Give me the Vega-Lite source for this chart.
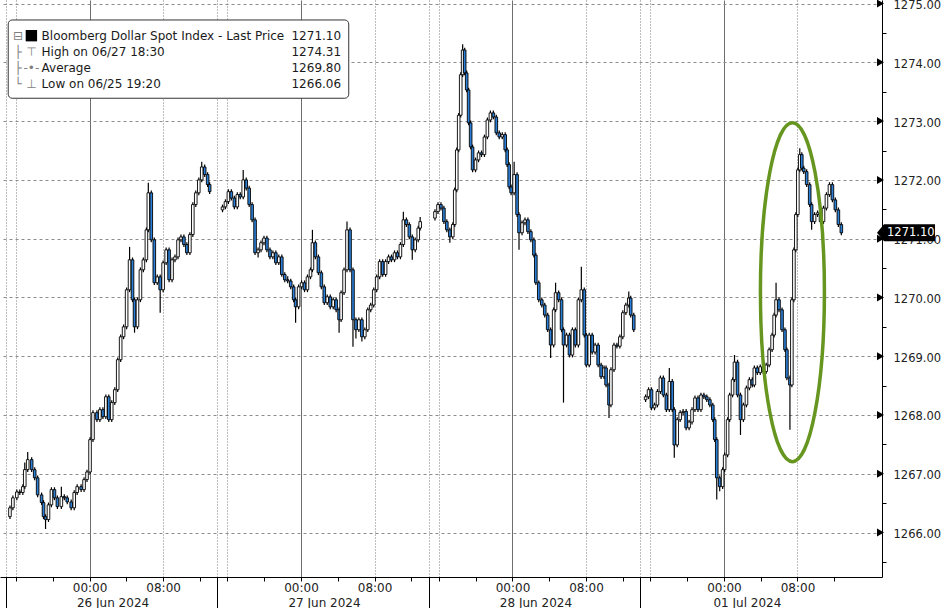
{
"$schema": "https://vega.github.io/schema/vega-lite/v6.json",
"width": 882, "height": 577,
"autosize": {"type": "none"},
"padding": {"left": 0, "top": 0, "right": 59, "bottom": 31},
"background": "white",
"config": {"view": {"stroke": null}, "font": "DejaVu Sans"},
"datasets": {"candles": [
{"t":0.54,"o":1266.27,"h":1266.46,"l":1266.23,"c":1266.42},
{"t":0.86,"o":1266.42,"h":1266.63,"l":1266.38,"c":1266.59},
{"t":1.29,"o":1266.59,"h":1266.73,"l":1266.55,"c":1266.69},
{"t":1.61,"o":1266.69,"h":1266.73,"l":1266.64,"c":1266.68},
{"t":1.94,"o":1266.68,"h":1266.82,"l":1266.64,"c":1266.78},
{"t":2.15,"o":1266.78,"h":1267.19,"l":1266.74,"c":1267.07},
{"t":2.47,"o":1267.07,"h":1267.37,"l":1267.03,"c":1267.24},
{"t":2.90,"o":1267.24,"h":1267.28,"l":1267.03,"c":1267.07},
{"t":3.23,"o":1267.07,"h":1267.11,"l":1266.89,"c":1266.93},
{"t":3.55,"o":1266.93,"h":1266.97,"l":1266.60,"c":1266.64},
{"t":3.98,"o":1266.64,"h":1266.68,"l":1266.47,"c":1266.51},
{"t":4.19,"o":1266.51,"h":1266.55,"l":1266.23,"c":1266.27},
{"t":4.41,"o":1266.27,"h":1266.31,"l":1266.06,"c":1266.22},
{"t":4.73,"o":1266.22,"h":1266.51,"l":1266.18,"c":1266.47},
{"t":5.05,"o":1266.47,"h":1266.77,"l":1266.43,"c":1266.73},
{"t":5.38,"o":1266.73,"h":1266.77,"l":1266.55,"c":1266.59},
{"t":5.70,"o":1266.59,"h":1266.63,"l":1266.40,"c":1266.44},
{"t":6.13,"o":1266.44,"h":1266.78,"l":1266.40,"c":1266.61},
{"t":6.45,"o":1266.61,"h":1266.65,"l":1266.55,"c":1266.59},
{"t":6.77,"o":1266.59,"h":1266.63,"l":1266.48,"c":1266.52},
{"t":7.20,"o":1266.52,"h":1266.56,"l":1266.38,"c":1266.42},
{"t":7.53,"o":1266.42,"h":1266.72,"l":1266.38,"c":1266.68},
{"t":7.85,"o":1266.68,"h":1266.82,"l":1266.64,"c":1266.78},
{"t":8.28,"o":1266.78,"h":1266.82,"l":1266.69,"c":1266.73},
{"t":8.60,"o":1266.73,"h":1266.94,"l":1266.69,"c":1266.90},
{"t":8.92,"o":1266.90,"h":1267.07,"l":1266.86,"c":1267.03},
{"t":9.25,"o":1267.03,"h":1267.62,"l":1266.99,"c":1267.58},
{"t":9.57,"o":1267.58,"h":1268.08,"l":1267.54,"c":1268.04},
{"t":10.00,"o":1268.04,"h":1268.08,"l":1267.88,"c":1267.92},
{"t":10.32,"o":1267.92,"h":1268.13,"l":1267.88,"c":1268.09},
{"t":10.65,"o":1268.09,"h":1268.13,"l":1267.93,"c":1267.97},
{"t":10.97,"o":1267.97,"h":1268.35,"l":1267.93,"c":1268.31},
{"t":11.29,"o":1268.31,"h":1268.35,"l":1267.88,"c":1267.92},
{"t":11.61,"o":1267.92,"h":1268.25,"l":1267.88,"c":1268.21},
{"t":11.94,"o":1268.21,"h":1268.47,"l":1268.17,"c":1268.43},
{"t":12.26,"o":1268.43,"h":1268.98,"l":1268.39,"c":1268.94},
{"t":12.58,"o":1268.94,"h":1269.37,"l":1268.90,"c":1269.33},
{"t":12.90,"o":1269.33,"h":1269.54,"l":1269.29,"c":1269.50},
{"t":13.23,"o":1269.50,"h":1270.17,"l":1269.46,"c":1270.13},
{"t":13.55,"o":1270.13,"h":1270.86,"l":1270.09,"c":1270.64},
{"t":13.87,"o":1270.64,"h":1270.68,"l":1269.92,"c":1269.96},
{"t":14.09,"o":1269.96,"h":1270.00,"l":1269.40,"c":1269.50},
{"t":14.41,"o":1269.50,"h":1270.00,"l":1269.46,"c":1269.96},
{"t":14.73,"o":1269.96,"h":1270.51,"l":1269.92,"c":1270.47},
{"t":15.05,"o":1270.47,"h":1270.68,"l":1270.43,"c":1270.64},
{"t":15.38,"o":1270.64,"h":1271.19,"l":1270.60,"c":1271.15},
{"t":15.59,"o":1271.15,"h":1271.95,"l":1271.11,"c":1271.78},
{"t":15.91,"o":1271.78,"h":1271.82,"l":1270.94,"c":1270.98},
{"t":16.24,"o":1270.98,"h":1271.02,"l":1270.21,"c":1270.25},
{"t":16.56,"o":1270.25,"h":1270.39,"l":1270.21,"c":1270.35},
{"t":16.88,"o":1270.35,"h":1270.39,"l":1269.74,"c":1270.13},
{"t":17.20,"o":1270.13,"h":1270.63,"l":1270.09,"c":1270.59},
{"t":17.53,"o":1270.59,"h":1270.85,"l":1270.55,"c":1270.81},
{"t":17.85,"o":1270.81,"h":1270.85,"l":1270.26,"c":1270.30},
{"t":18.17,"o":1270.30,"h":1270.68,"l":1270.26,"c":1270.64},
{"t":18.49,"o":1270.64,"h":1270.73,"l":1270.60,"c":1270.69},
{"t":18.82,"o":1270.69,"h":1271.02,"l":1270.65,"c":1270.98},
{"t":19.14,"o":1270.98,"h":1271.07,"l":1270.94,"c":1271.03},
{"t":19.46,"o":1271.03,"h":1271.07,"l":1270.86,"c":1270.90},
{"t":19.78,"o":1270.90,"h":1270.94,"l":1270.72,"c":1270.76},
{"t":20.11,"o":1270.76,"h":1271.11,"l":1270.72,"c":1271.07},
{"t":20.43,"o":1271.07,"h":1271.62,"l":1271.03,"c":1271.58},
{"t":20.75,"o":1271.58,"h":1271.82,"l":1271.54,"c":1271.78},
{"t":21.08,"o":1271.78,"h":1272.04,"l":1271.74,"c":1272.00},
{"t":21.40,"o":1272.00,"h":1272.31,"l":1271.96,"c":1272.22},
{"t":21.72,"o":1272.22,"h":1272.26,"l":1272.05,"c":1272.09},
{"t":22.04,"o":1272.09,"h":1272.13,"l":1271.88,"c":1271.92},
{"t":22.26,"o":1271.92,"h":1271.96,"l":1271.76,"c":1271.80},
{"t":23.66,"o":1271.49,"h":1271.58,"l":1271.45,"c":1271.54},
{"t":23.98,"o":1271.54,"h":1271.67,"l":1271.50,"c":1271.63},
{"t":24.30,"o":1271.63,"h":1271.84,"l":1271.59,"c":1271.80},
{"t":24.62,"o":1271.80,"h":1271.84,"l":1271.65,"c":1271.69},
{"t":24.95,"o":1271.69,"h":1271.73,"l":1271.50,"c":1271.54},
{"t":25.27,"o":1271.54,"h":1271.79,"l":1271.50,"c":1271.75},
{"t":25.59,"o":1271.75,"h":1271.79,"l":1271.67,"c":1271.71},
{"t":25.91,"o":1271.71,"h":1272.17,"l":1271.67,"c":1272.00},
{"t":26.24,"o":1272.00,"h":1272.04,"l":1271.82,"c":1271.86},
{"t":26.56,"o":1271.86,"h":1271.90,"l":1271.54,"c":1271.58},
{"t":26.88,"o":1271.58,"h":1271.62,"l":1271.28,"c":1271.32},
{"t":27.20,"o":1271.32,"h":1271.36,"l":1270.72,"c":1270.76},
{"t":27.53,"o":1270.76,"h":1270.85,"l":1270.68,"c":1270.81},
{"t":27.85,"o":1270.81,"h":1270.97,"l":1270.77,"c":1270.93},
{"t":28.17,"o":1270.93,"h":1271.05,"l":1270.89,"c":1271.01},
{"t":28.49,"o":1271.01,"h":1271.05,"l":1270.77,"c":1270.81},
{"t":28.82,"o":1270.81,"h":1270.85,"l":1270.65,"c":1270.69},
{"t":29.14,"o":1270.69,"h":1270.80,"l":1270.65,"c":1270.76},
{"t":29.46,"o":1270.76,"h":1270.80,"l":1270.55,"c":1270.59},
{"t":29.78,"o":1270.59,"h":1270.73,"l":1270.55,"c":1270.69},
{"t":30.11,"o":1270.69,"h":1270.73,"l":1270.35,"c":1270.39},
{"t":30.43,"o":1270.39,"h":1270.43,"l":1270.26,"c":1270.30},
{"t":30.75,"o":1270.30,"h":1270.36,"l":1270.24,"c":1270.28},
{"t":31.08,"o":1270.28,"h":1270.32,"l":1270.14,"c":1270.18},
{"t":31.40,"o":1270.18,"h":1270.22,"l":1269.92,"c":1269.96},
{"t":31.61,"o":1269.96,"h":1270.00,"l":1269.57,"c":1269.84},
{"t":31.94,"o":1269.84,"h":1270.22,"l":1269.80,"c":1270.18},
{"t":32.26,"o":1270.18,"h":1270.29,"l":1270.14,"c":1270.25},
{"t":32.58,"o":1270.25,"h":1270.29,"l":1270.09,"c":1270.13},
{"t":32.90,"o":1270.13,"h":1270.39,"l":1270.09,"c":1270.35},
{"t":33.23,"o":1270.35,"h":1270.51,"l":1270.31,"c":1270.47},
{"t":33.44,"o":1270.47,"h":1271.15,"l":1270.43,"c":1270.93},
{"t":33.76,"o":1270.93,"h":1270.97,"l":1270.65,"c":1270.69},
{"t":34.09,"o":1270.69,"h":1270.73,"l":1270.38,"c":1270.42},
{"t":34.41,"o":1270.42,"h":1270.46,"l":1270.14,"c":1270.18},
{"t":34.73,"o":1270.18,"h":1270.22,"l":1269.87,"c":1269.91},
{"t":35.05,"o":1269.91,"h":1270.05,"l":1269.87,"c":1270.01},
{"t":35.38,"o":1270.01,"h":1270.05,"l":1269.80,"c":1269.84},
{"t":35.70,"o":1269.84,"h":1270.00,"l":1269.80,"c":1269.96},
{"t":36.02,"o":1269.96,"h":1270.00,"l":1269.75,"c":1269.79},
{"t":36.34,"o":1269.79,"h":1269.83,"l":1269.40,"c":1269.62},
{"t":36.56,"o":1269.62,"h":1270.12,"l":1269.58,"c":1270.08},
{"t":36.88,"o":1270.08,"h":1270.51,"l":1270.04,"c":1270.47},
{"t":37.20,"o":1270.47,"h":1271.29,"l":1270.43,"c":1271.15},
{"t":37.53,"o":1271.15,"h":1271.19,"l":1270.43,"c":1270.47},
{"t":37.85,"o":1270.47,"h":1270.51,"l":1269.16,"c":1269.62},
{"t":38.17,"o":1269.62,"h":1269.66,"l":1269.30,"c":1269.45},
{"t":38.49,"o":1269.45,"h":1269.66,"l":1269.41,"c":1269.62},
{"t":38.82,"o":1269.62,"h":1269.66,"l":1269.25,"c":1269.33},
{"t":39.14,"o":1269.33,"h":1269.49,"l":1269.29,"c":1269.45},
{"t":39.46,"o":1269.45,"h":1269.83,"l":1269.41,"c":1269.79},
{"t":39.78,"o":1269.79,"h":1269.91,"l":1269.75,"c":1269.87},
{"t":40.11,"o":1269.87,"h":1270.17,"l":1269.83,"c":1270.13},
{"t":40.43,"o":1270.13,"h":1270.39,"l":1270.09,"c":1270.35},
{"t":40.75,"o":1270.35,"h":1270.65,"l":1270.31,"c":1270.61},
{"t":41.08,"o":1270.61,"h":1270.65,"l":1270.35,"c":1270.39},
{"t":41.40,"o":1270.39,"h":1270.65,"l":1270.35,"c":1270.61},
{"t":41.72,"o":1270.61,"h":1270.73,"l":1270.57,"c":1270.69},
{"t":42.04,"o":1270.69,"h":1270.73,"l":1270.60,"c":1270.64},
{"t":42.37,"o":1270.64,"h":1270.80,"l":1270.60,"c":1270.76},
{"t":42.69,"o":1270.76,"h":1270.80,"l":1270.65,"c":1270.69},
{"t":43.01,"o":1270.69,"h":1270.94,"l":1270.65,"c":1270.90},
{"t":43.33,"o":1270.90,"h":1271.46,"l":1270.86,"c":1271.32},
{"t":43.66,"o":1271.32,"h":1271.36,"l":1271.20,"c":1271.24},
{"t":43.98,"o":1271.24,"h":1271.28,"l":1270.99,"c":1271.03},
{"t":44.30,"o":1271.03,"h":1271.07,"l":1270.64,"c":1270.81},
{"t":44.62,"o":1270.81,"h":1271.02,"l":1270.77,"c":1270.98},
{"t":44.95,"o":1270.98,"h":1271.22,"l":1270.94,"c":1271.18},
{"t":45.16,"o":1271.18,"h":1271.37,"l":1271.14,"c":1271.29},
{"t":46.77,"o":1271.35,"h":1271.50,"l":1271.31,"c":1271.46},
{"t":47.10,"o":1271.46,"h":1271.62,"l":1271.42,"c":1271.58},
{"t":47.42,"o":1271.58,"h":1271.62,"l":1271.48,"c":1271.52},
{"t":47.74,"o":1271.52,"h":1271.56,"l":1271.25,"c":1271.29},
{"t":48.06,"o":1271.29,"h":1271.33,"l":1271.11,"c":1271.15},
{"t":48.39,"o":1271.15,"h":1271.19,"l":1270.93,"c":1271.03},
{"t":48.71,"o":1271.03,"h":1271.28,"l":1270.99,"c":1271.24},
{"t":48.92,"o":1271.24,"h":1271.87,"l":1271.20,"c":1271.83},
{"t":49.14,"o":1271.83,"h":1272.55,"l":1271.79,"c":1272.51},
{"t":49.35,"o":1272.51,"h":1273.14,"l":1272.47,"c":1273.10},
{"t":49.57,"o":1273.10,"h":1273.83,"l":1273.06,"c":1273.79},
{"t":49.78,"o":1273.79,"h":1274.31,"l":1273.75,"c":1274.21},
{"t":50.00,"o":1274.21,"h":1274.25,"l":1273.78,"c":1273.82},
{"t":50.22,"o":1273.82,"h":1273.86,"l":1273.49,"c":1273.53},
{"t":50.43,"o":1273.53,"h":1273.57,"l":1272.93,"c":1272.97},
{"t":50.65,"o":1272.97,"h":1273.01,"l":1272.52,"c":1272.56},
{"t":50.86,"o":1272.56,"h":1272.60,"l":1272.13,"c":1272.17},
{"t":51.18,"o":1272.17,"h":1272.38,"l":1272.13,"c":1272.34},
{"t":51.51,"o":1272.34,"h":1272.50,"l":1272.30,"c":1272.46},
{"t":51.83,"o":1272.46,"h":1272.50,"l":1272.39,"c":1272.43},
{"t":52.15,"o":1272.43,"h":1272.77,"l":1272.39,"c":1272.73},
{"t":52.47,"o":1272.73,"h":1273.06,"l":1272.69,"c":1273.02},
{"t":52.80,"o":1273.02,"h":1273.18,"l":1272.98,"c":1273.14},
{"t":53.12,"o":1273.14,"h":1273.18,"l":1273.03,"c":1273.07},
{"t":53.44,"o":1273.07,"h":1273.11,"l":1272.76,"c":1272.80},
{"t":53.76,"o":1272.80,"h":1272.84,"l":1272.69,"c":1272.73},
{"t":54.09,"o":1272.73,"h":1272.81,"l":1272.69,"c":1272.77},
{"t":54.41,"o":1272.77,"h":1272.81,"l":1272.47,"c":1272.51},
{"t":54.62,"o":1272.51,"h":1272.55,"l":1272.22,"c":1272.26},
{"t":54.84,"o":1272.26,"h":1272.30,"l":1271.84,"c":1271.88},
{"t":55.05,"o":1271.88,"h":1271.92,"l":1271.74,"c":1271.78},
{"t":55.38,"o":1271.78,"h":1272.31,"l":1271.74,"c":1272.09},
{"t":55.70,"o":1272.09,"h":1272.13,"l":1271.37,"c":1271.41},
{"t":55.91,"o":1271.41,"h":1271.45,"l":1270.81,"c":1271.10},
{"t":56.24,"o":1271.10,"h":1271.31,"l":1271.06,"c":1271.27},
{"t":56.56,"o":1271.27,"h":1271.36,"l":1271.23,"c":1271.32},
{"t":56.88,"o":1271.32,"h":1271.36,"l":1271.08,"c":1271.12},
{"t":57.20,"o":1271.12,"h":1271.16,"l":1270.94,"c":1270.98},
{"t":57.53,"o":1270.98,"h":1271.02,"l":1270.68,"c":1270.72},
{"t":57.74,"o":1270.72,"h":1270.76,"l":1270.21,"c":1270.25},
{"t":58.06,"o":1270.25,"h":1270.29,"l":1269.92,"c":1269.96},
{"t":58.39,"o":1269.96,"h":1270.00,"l":1269.83,"c":1269.87},
{"t":58.71,"o":1269.87,"h":1269.91,"l":1269.66,"c":1269.70},
{"t":59.03,"o":1269.70,"h":1269.74,"l":1269.41,"c":1269.45},
{"t":59.35,"o":1269.45,"h":1269.49,"l":1268.97,"c":1269.19},
{"t":59.68,"o":1269.19,"h":1269.83,"l":1269.15,"c":1269.79},
{"t":59.89,"o":1269.79,"h":1270.25,"l":1269.75,"c":1270.08},
{"t":60.22,"o":1270.08,"h":1270.12,"l":1269.92,"c":1269.96},
{"t":60.54,"o":1269.96,"h":1270.00,"l":1269.41,"c":1269.45},
{"t":60.75,"o":1269.45,"h":1269.49,"l":1268.21,"c":1269.19},
{"t":61.08,"o":1269.19,"h":1269.40,"l":1269.15,"c":1269.36},
{"t":61.40,"o":1269.36,"h":1269.40,"l":1268.98,"c":1269.02},
{"t":61.72,"o":1269.02,"h":1269.49,"l":1268.98,"c":1269.45},
{"t":62.04,"o":1269.45,"h":1269.49,"l":1269.15,"c":1269.19},
{"t":62.37,"o":1269.19,"h":1270.00,"l":1269.15,"c":1269.96},
{"t":62.69,"o":1269.96,"h":1270.52,"l":1269.92,"c":1270.13},
{"t":63.01,"o":1270.13,"h":1270.17,"l":1269.32,"c":1269.36},
{"t":63.23,"o":1269.36,"h":1269.40,"l":1268.81,"c":1268.85},
{"t":63.55,"o":1268.85,"h":1269.40,"l":1268.81,"c":1269.36},
{"t":63.87,"o":1269.36,"h":1269.40,"l":1269.03,"c":1269.07},
{"t":64.19,"o":1269.07,"h":1269.23,"l":1269.03,"c":1269.19},
{"t":64.52,"o":1269.19,"h":1269.23,"l":1268.81,"c":1268.85},
{"t":64.84,"o":1268.85,"h":1268.89,"l":1268.61,"c":1268.65},
{"t":65.16,"o":1268.65,"h":1268.84,"l":1268.61,"c":1268.80},
{"t":65.38,"o":1268.80,"h":1268.84,"l":1268.47,"c":1268.51},
{"t":65.70,"o":1268.51,"h":1268.55,"l":1267.95,"c":1268.17},
{"t":65.91,"o":1268.17,"h":1268.81,"l":1268.13,"c":1268.77},
{"t":66.24,"o":1268.77,"h":1269.23,"l":1268.73,"c":1269.19},
{"t":66.56,"o":1269.19,"h":1269.23,"l":1269.13,"c":1269.17},
{"t":66.88,"o":1269.17,"h":1269.37,"l":1269.13,"c":1269.33},
{"t":67.20,"o":1269.33,"h":1269.78,"l":1269.29,"c":1269.74},
{"t":67.53,"o":1269.74,"h":1269.91,"l":1269.70,"c":1269.87},
{"t":67.85,"o":1269.87,"h":1270.10,"l":1269.83,"c":1269.99},
{"t":68.06,"o":1269.99,"h":1270.03,"l":1269.66,"c":1269.70},
{"t":68.39,"o":1269.70,"h":1269.74,"l":1269.41,"c":1269.45},
{"t":69.68,"o":1268.26,"h":1268.35,"l":1268.22,"c":1268.31},
{"t":70.00,"o":1268.31,"h":1268.47,"l":1268.27,"c":1268.43},
{"t":70.32,"o":1268.43,"h":1268.47,"l":1268.08,"c":1268.12},
{"t":70.65,"o":1268.12,"h":1268.21,"l":1268.08,"c":1268.17},
{"t":70.97,"o":1268.17,"h":1268.44,"l":1268.13,"c":1268.40},
{"t":71.29,"o":1268.40,"h":1268.67,"l":1268.36,"c":1268.63},
{"t":71.61,"o":1268.63,"h":1268.67,"l":1268.30,"c":1268.34},
{"t":71.94,"o":1268.34,"h":1268.38,"l":1268.05,"c":1268.09},
{"t":72.26,"o":1268.09,"h":1268.80,"l":1268.05,"c":1268.57},
{"t":72.58,"o":1268.57,"h":1268.61,"l":1268.05,"c":1268.09},
{"t":72.80,"o":1268.09,"h":1268.13,"l":1267.27,"c":1267.49},
{"t":73.12,"o":1267.49,"h":1267.96,"l":1267.45,"c":1267.92},
{"t":73.44,"o":1267.92,"h":1268.08,"l":1267.88,"c":1268.04},
{"t":73.76,"o":1268.04,"h":1268.10,"l":1268.00,"c":1268.06},
{"t":74.09,"o":1268.06,"h":1268.10,"l":1267.74,"c":1267.78},
{"t":74.41,"o":1267.78,"h":1267.92,"l":1267.74,"c":1267.88},
{"t":74.73,"o":1267.88,"h":1268.13,"l":1267.84,"c":1268.09},
{"t":75.05,"o":1268.09,"h":1268.33,"l":1268.05,"c":1268.29},
{"t":75.38,"o":1268.29,"h":1268.33,"l":1268.05,"c":1268.09},
{"t":75.70,"o":1268.09,"h":1268.38,"l":1268.05,"c":1268.34},
{"t":76.02,"o":1268.34,"h":1268.38,"l":1268.27,"c":1268.31},
{"t":76.34,"o":1268.31,"h":1268.35,"l":1268.22,"c":1268.26},
{"t":76.67,"o":1268.26,"h":1268.30,"l":1268.13,"c":1268.17},
{"t":76.99,"o":1268.17,"h":1268.21,"l":1267.88,"c":1267.92},
{"t":77.20,"o":1267.92,"h":1267.96,"l":1267.54,"c":1267.58},
{"t":77.42,"o":1267.58,"h":1267.62,"l":1266.56,"c":1266.93},
{"t":77.74,"o":1266.93,"h":1266.97,"l":1266.70,"c":1266.78},
{"t":78.06,"o":1266.78,"h":1267.11,"l":1266.74,"c":1267.07},
{"t":78.28,"o":1267.07,"h":1267.36,"l":1267.03,"c":1267.32},
{"t":78.60,"o":1267.32,"h":1267.96,"l":1267.28,"c":1267.92},
{"t":78.82,"o":1267.92,"h":1268.38,"l":1267.88,"c":1268.34},
{"t":79.14,"o":1268.34,"h":1268.64,"l":1268.30,"c":1268.60},
{"t":79.35,"o":1268.60,"h":1269.02,"l":1268.56,"c":1268.90},
{"t":79.68,"o":1268.90,"h":1268.94,"l":1268.30,"c":1268.34},
{"t":80.00,"o":1268.34,"h":1268.38,"l":1267.66,"c":1267.92},
{"t":80.32,"o":1267.92,"h":1268.21,"l":1267.88,"c":1268.17},
{"t":80.65,"o":1268.17,"h":1268.50,"l":1268.13,"c":1268.46},
{"t":80.97,"o":1268.46,"h":1268.64,"l":1268.42,"c":1268.60},
{"t":81.29,"o":1268.60,"h":1268.64,"l":1268.47,"c":1268.51},
{"t":81.51,"o":1268.51,"h":1268.84,"l":1268.47,"c":1268.80},
{"t":81.83,"o":1268.80,"h":1268.84,"l":1268.68,"c":1268.72},
{"t":82.15,"o":1268.72,"h":1268.86,"l":1268.68,"c":1268.82},
{"t":82.47,"o":1268.82,"h":1268.86,"l":1268.70,"c":1268.74},
{"t":82.80,"o":1268.74,"h":1268.89,"l":1268.70,"c":1268.85},
{"t":83.12,"o":1268.85,"h":1269.15,"l":1268.81,"c":1269.11},
{"t":83.44,"o":1269.11,"h":1269.40,"l":1269.07,"c":1269.36},
{"t":83.66,"o":1269.36,"h":1269.74,"l":1269.32,"c":1269.70},
{"t":83.87,"o":1269.70,"h":1270.25,"l":1269.66,"c":1269.96},
{"t":84.19,"o":1269.96,"h":1270.00,"l":1269.75,"c":1269.79},
{"t":84.52,"o":1269.79,"h":1269.83,"l":1269.41,"c":1269.45},
{"t":84.84,"o":1269.45,"h":1269.49,"l":1269.07,"c":1269.11},
{"t":85.05,"o":1269.11,"h":1269.15,"l":1268.59,"c":1268.63},
{"t":85.38,"o":1268.63,"h":1268.67,"l":1267.75,"c":1268.51},
{"t":85.59,"o":1268.51,"h":1270.00,"l":1268.47,"c":1269.96},
{"t":85.81,"o":1269.96,"h":1270.85,"l":1269.92,"c":1270.81},
{"t":86.02,"o":1270.81,"h":1271.45,"l":1270.77,"c":1271.41},
{"t":86.24,"o":1271.41,"h":1272.21,"l":1271.37,"c":1272.17},
{"t":86.45,"o":1272.17,"h":1272.54,"l":1272.13,"c":1272.43},
{"t":86.67,"o":1272.43,"h":1272.47,"l":1272.16,"c":1272.20},
{"t":86.88,"o":1272.20,"h":1272.24,"l":1272.10,"c":1272.14},
{"t":87.20,"o":1272.14,"h":1272.18,"l":1271.88,"c":1271.92},
{"t":87.53,"o":1271.92,"h":1271.96,"l":1271.54,"c":1271.58},
{"t":87.74,"o":1271.58,"h":1271.62,"l":1271.15,"c":1271.29},
{"t":88.06,"o":1271.29,"h":1271.45,"l":1271.25,"c":1271.41},
{"t":88.39,"o":1271.41,"h":1271.48,"l":1271.37,"c":1271.44},
{"t":88.71,"o":1271.44,"h":1271.48,"l":1271.25,"c":1271.29},
{"t":89.03,"o":1271.29,"h":1271.56,"l":1271.25,"c":1271.52},
{"t":89.35,"o":1271.52,"h":1271.79,"l":1271.48,"c":1271.75},
{"t":89.68,"o":1271.75,"h":1271.96,"l":1271.71,"c":1271.92},
{"t":90.00,"o":1271.92,"h":1271.96,"l":1271.62,"c":1271.66},
{"t":90.32,"o":1271.66,"h":1271.70,"l":1271.45,"c":1271.49},
{"t":90.65,"o":1271.49,"h":1271.53,"l":1271.20,"c":1271.24},
{"t":90.97,"o":1271.24,"h":1271.28,"l":1271.06,"c":1271.10}
]},
"resolve": {"axis": {"x": "independent", "y": "independent"}},
"layer": [
{
 "data": {"values": [{"lv":1266},{"lv":1267},{"lv":1268},{"lv":1269},{"lv":1270},{"lv":1271},{"lv":1272},{"lv":1273},{"lv":1274},{"lv":1275}]},
 "mark": {"type": "point", "shape": "M0,-4L7,0L0,4Z", "size": 4, "filled": true, "color": "#000000", "opacity": 1},
 "encoding": {
  "x": {"datum": 94.85, "type": "quantitative", "scale": {"domain": [0, 94.85], "nice": false, "zero": false}, "axis": null},
  "y": {"field": "lv", "type": "quantitative",
   "scale": {"domain": [1265.243, 1275.061], "nice": false, "zero": false},
   "axis": {"orient": "right", "title": null,
    "values": [1266,1267,1268,1269,1270,1271,1272,1273,1274,1275],
    "grid": true, "gridColor": "#8c8c8c", "gridDash": [3, 3], "gridWidth": 1,
    "ticks": false, "domain": true, "domainColor": "#000000", "domainWidth": 1,
    "format": ".2f",
    "labelFont": "DejaVu Sans", "labelFontSize": 11.5, "labelColor": "#222222",
    "labelPadding": 11, "labelOffset": 2, "labelOverlap": false, "labelFlush": false
   }}
 }
},
{
 "data": {"name": "candles"},
 "mark": {"type": "rule", "color": "#000000", "strokeWidth": 1.2},
 "encoding": {
  "x": {"field": "t", "type": "quantitative",
   "axis": {"orient": "bottom", "title": null,
    "values": [0.1,1.2,5.2,9.2,13.2,17.2,21.2,23.1,24.2,28.2,32.2,36.2,40.2,44.2,46.1,47.2,51.2,55.2,59.2,63.2,67.2,69.1,70.2,74.2,78.2,82.2,86.2,90.2],
    "grid": true,
    "gridOpacity": {"condition": {"test": "indexof([0, 11, 91, 171], round((datum.value - 0.1) * 10) % 230) >= 0", "value": 1}, "value": 0},
    "gridDash": {"condition": {"test": "round((datum.value - 0.1) * 10) % 230 === 91", "value": []}, "value": [1, 2]},
    "gridColor": {"condition": {"test": "round((datum.value - 0.1) * 10) % 230 === 91", "value": "#6e6e6e"}, "value": "#7a7a7a"},
    "gridWidth": 1,
    "tickSize": 4, "tickColor": "#000000", "tickWidth": 1,
    "domainColor": "#000000", "domainWidth": 1,
    "labelExpr": "(round((datum.value - 0.1) * 10) % 230) === 91 ? '00:00' : ((round((datum.value - 0.1) * 10) % 230) === 171 ? '08:00' : '')",
    "labelFont": "DejaVu Sans", "labelFontSize": 12, "labelColor": "#222222",
    "labelPadding": 1, "labelOverlap": false, "labelFlush": false
   }},
  "y": {"field": "l", "type": "quantitative",
   "axis": {"orient": "right", "title": null,
    "values": [1265.5,1266.5,1267.5,1268.5,1269.5,1270.5,1271.5,1272.5,1273.5,1274.5],
    "grid": false, "domain": false, "labels": false, "ticks": true,
    "tickSize": 4, "tickColor": "#000000", "tickWidth": 1}},
  "y2": {"field": "h"}
 }
},
{
 "data": {"name": "candles"},
 "mark": {"type": "bar", "size": 2.6, "stroke": "#000000", "strokeWidth": 0.9},
 "encoding": {
  "x": {"field": "t", "type": "quantitative",
   "axis": {"orient": "bottom", "title": null, "values": [0.1, 23.1, 46.1, 69.1],
    "grid": false, "domain": false, "labels": false, "ticks": true,
    "tickSize": 31, "tickColor": "#000000", "tickWidth": 1}},
  "y": {"field": "o", "type": "quantitative", "axis": null},
  "y2": {"field": "c"},
  "fill": {"condition": {"test": "datum.c >= datum.o", "value": "#ffffff"}, "value": "#2b7fd6"}
 }
},
{
 "data": {"values": [{"t": 85.65, "v": 1270.09}]},
 "mark": {"type": "point", "shape": "M0,-169.5A32,169.5 0 1,1 0,169.5A32,169.5 0 1,1 0,-169.5Z", "size": 4, "filled": false, "color": "#679620", "strokeWidth": 3.5, "opacity": 1},
 "encoding": {
  "x": {"field": "t", "type": "quantitative",
   "axis": {"orient": "bottom", "title": null, "values": [11.7, 34.7, 57.7, 80.7],
    "grid": false, "domain": false, "ticks": false,
    "labelExpr": "datum.value < 20 ? '26 Jun 2024' : (datum.value < 45 ? '27 Jun 2024' : (datum.value < 70 ? '28 Jun 2024' : '01 Jul 2024'))",
    "labelFont": "DejaVu Sans", "labelFontSize": 12, "labelColor": "#222222",
    "labelPadding": 20, "labelOverlap": false, "labelFlush": false}},
  "y": {"field": "v", "type": "quantitative", "axis": null}
 }
},
{
 "data": {"values": [{}]},
 "mark": {"type": "rect", "fill": "#ffffff", "stroke": "#333333", "strokeWidth": 1, "cornerRadius": 4},
 "encoding": {
  "x": {"datum": 0.35, "type": "quantitative", "axis": null},
  "x2": {"datum": 37.39},
  "y": {"datum": 1274.721, "type": "quantitative", "axis": null},
  "y2": {"datum": 1273.389}
 }
},
{
 "data": {"values": [{}]},
 "mark": {"type": "text", "text": ["Bloomberg Dollar Spot Index - Last Price", "High on 06/27 18:30", "Average", "Low on 06/25 19:20"], "align": "left", "baseline": "middle", "lineHeight": 16.1, "fontSize": 12, "font": "DejaVu Sans", "color": "#1a1a1a"},
 "encoding": {
  "x": {"datum": 3.98, "type": "quantitative", "axis": null},
  "y": {"datum": 1274.454, "type": "quantitative", "axis": null}
 }
},
{
 "data": {"values": [{}]},
 "mark": {"type": "text", "text": ["1271.10", "1274.31", "1269.80", "1266.06"], "align": "right", "baseline": "middle", "lineHeight": 16.1, "fontSize": 12, "font": "DejaVu Sans", "color": "#1a1a1a"},
 "encoding": {
  "x": {"datum": 36.56, "type": "quantitative", "axis": null},
  "y": {"datum": 1274.454, "type": "quantitative", "axis": null}
 }
},
{
 "data": {"values": [{}]},
 "mark": {"type": "text", "text": ["⊟", "├", "├", "└"], "align": "center", "baseline": "middle", "lineHeight": 16.1, "fontSize": 12, "font": "DejaVu Sans", "color": "#808080"},
 "encoding": {
  "x": {"datum": 1.43, "type": "quantitative", "axis": null},
  "y": {"datum": 1274.454, "type": "quantitative", "axis": null}
 }
},
{
 "data": {"values": [{}]},
 "mark": {"type": "text", "text": ["", "⊤", "-•-", "⊥"], "align": "center", "baseline": "middle", "lineHeight": 16.1, "fontSize": 12, "font": "DejaVu Sans", "color": "#808080"},
 "encoding": {
  "x": {"datum": 2.87, "type": "quantitative", "axis": null},
  "y": {"datum": 1274.454, "type": "quantitative", "axis": null}
 }
},
{
 "data": {"values": [{}]},
 "mark": {"type": "point", "shape": "square", "size": 130, "filled": true, "color": "#000000", "opacity": 1},
 "encoding": {
  "x": {"datum": 2.87, "type": "quantitative", "axis": null},
  "y": {"datum": 1274.454, "type": "quantitative", "axis": null}
 }
},
{
 "data": {"values": [{"last": 1271.10}]},
 "mark": {"type": "point", "shape": "M0,0L7,-8.5L58,-8.5L58,8.5L7,8.5Z", "size": 4, "filled": true, "color": "#000000", "opacity": 1},
 "encoding": {
  "x": {"datum": 94.85, "type": "quantitative", "axis": null},
  "y": {"field": "last", "type": "quantitative", "axis": null}
 }
},
{
 "data": {"values": [{"last": 1271.10}]},
 "mark": {"type": "text", "align": "left", "baseline": "middle", "dx": 10, "fontSize": 11.5, "font": "DejaVu Sans", "color": "#ffffff"},
 "encoding": {
  "x": {"datum": 94.85, "type": "quantitative", "axis": null},
  "y": {"field": "last", "type": "quantitative", "axis": null},
  "text": {"field": "last", "type": "quantitative", "format": ".2f"}
 }
}
]
}
